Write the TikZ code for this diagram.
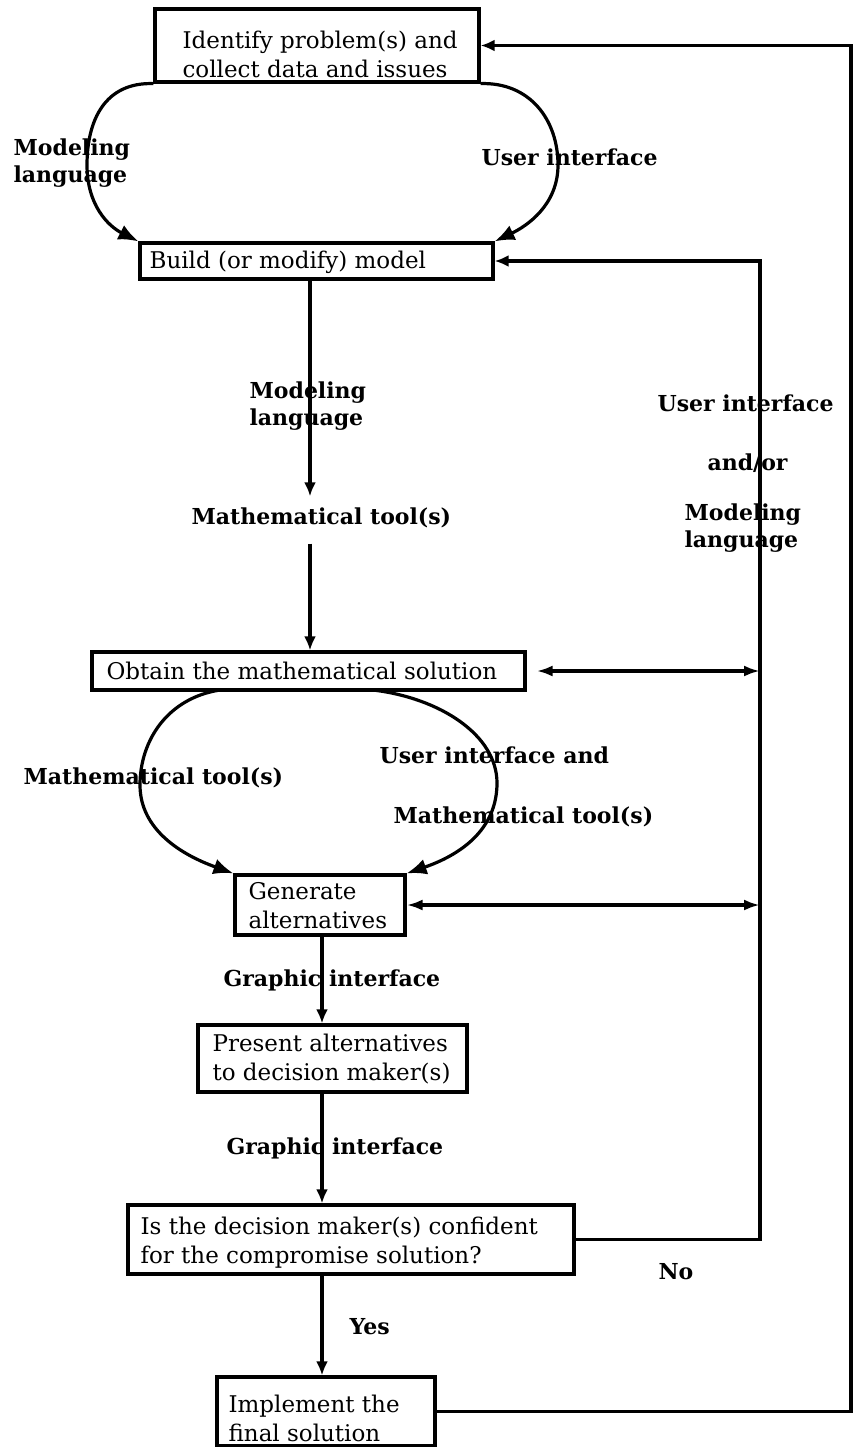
\documentclass[tikz,border=0pt]{standalone}
\usepackage{fontspec}
\setmainfont{DejaVu Serif}
\usetikzlibrary{arrows.meta,fit}
\begin{document}
\begin{tikzpicture}[x=0.5pt,y=-0.5pt,
  line width=1.6pt,
  box/.style={draw, line width=1.6pt, inner sep=0pt, rectangle},
  boxtext/.style={font=\fontsize{11.5}{14.5}\selectfont, align=left, anchor=west, inner sep=0pt},
  lbl/.style={font=\fontsize{11}{13.5}\selectfont\bfseries, align=left, anchor=west, inner sep=0pt},
  tip/.style={-{Latex[length=7pt,width=6pt]}},
  bigtip/.style={-{Latex[length=10pt,width=8pt]}},
  bothtips/.style={{Latex[length=8pt,width=5.5pt]}-{Latex[length=8pt,width=5.5pt]}},
]
\useasboundingbox (0,0) rectangle (857,1447);

% process boxes
\node[box, fit={(155,9)(479,82)}] (ident) {};
\node[box, fit={(140,243)(493,279)}] (build) {};
\node[box, fit={(92,652)(525,690)}] (obtain) {};
\node[box, fit={(235,875)(405,935)}] (generate) {};
\node[box, fit={(198,1025)(467,1092)}] (present) {};
\node[box, fit={(128,1205)(574,1274)}] (decide) {};
\node[box, fit={(217,1377)(435,1446)}] (implement) {};

% box texts
\node[boxtext] (identtxt) at (181,54) {Identify problem(s) and\\collect data and issues};
\node[boxtext] (buildtxt) at (148,262) {Build (or modify) model};
\node[boxtext] (obtaintxt) at (105,671) {Obtain the mathematical solution};
\node[boxtext] (generatetxt) at (247,906) {Generate\\alternatives};
\node[boxtext] (presenttxt) at (211,1059) {Present alternatives\\to decision maker(s)};
\node[boxtext] (decidetxt) at (139,1243) {Is the decision maker(s) confident\\for the compromise solution?};
\node[boxtext] (implementtxt) at (227,1418) {Implement the\\final solution};

% connector labels
\node[lbl] (lang1) at (12,163) {Modeling\\language};
\node[lbl] (ui1) at (480,157) {User interface};
\node[lbl] (lang2) at (248,406) {Modeling\\language};
\node[lbl] (mt1) at (190,518) {Mathematical tool(s)};
\node[lbl] (ui2) at (656,403) {User interface};
\node[lbl] (andor) at (706,463) {and/or};
\node[lbl] (lang3) at (683,528) {Modeling\\language};
\node[lbl] (mt2) at (22,778) {Mathematical tool(s)};
\node[lbl] (ui3) at (378,755) {User interface and};
\node[lbl] (mt3) at (392,817) {Mathematical tool(s)};
\node[lbl] (gi1) at (222,980) {Graphic interface};
\node[lbl] (gi2) at (225,1148) {Graphic interface};
\node[lbl] (yes) at (348,1327) {Yes};
\node[lbl] (no) at (657,1272) {No};

% vertical axes and feedback buses
\coordinate (axisA) at (310,0);
\coordinate (axisB) at (322,0);
\coordinate (busA) at (760,0);
\coordinate (busB) at (851,0);

% loop waypoints
\coordinate (loopAl) at (87,165);
\coordinate (loopAr) at (558,165);
\coordinate (loopBs) at (220,690);
\coordinate (loopBe) at (373,690);
\coordinate (loopBl) at (140,785);
\coordinate (loopBr) at (497,783);

% loop between identification and model building
\draw[bigtip] (ident.south west) .. controls (105,82) and (87,120) .. (loopAl)
  .. controls (87,205) and (108,226) .. (build.north west);
\draw[bigtip] (ident.south east) .. controls (530,82) and (558,120) .. (loopAr)
  .. controls (558,205) and (527,226) .. (build.north east);

% main flow
\draw[tip, shorten >=5pt] (build.south -| axisA) -- (mt1.north -| axisA);
\draw[tip, shorten <=7pt] (mt1.south -| axisA) -- (obtain.north -| axisA);

% loop between solution and alternatives
\draw[bigtip] (loopBs) .. controls (168,698) and (140,740) .. (loopBl)
  .. controls (140,830) and (182,855) .. (generate.north west);
\draw[bigtip] (loopBe) .. controls (440,698) and (497,735) .. (loopBr)
  .. controls (497,830) and (460,855) .. (generate.north east);

\draw[tip] (generate.south -| axisB) -- (present.north -| axisB);
\draw[tip] (present.south -| axisB) -- (decide.north -| axisB);
\draw[tip] (decide.south -| axisB) -- (implement.north -| axisB);

% feedback: No -> rebuild the model
\draw[tip] (decide.east) -- (decide.east -| busA) -- (build.east -| busA) -- (build.east);
\draw[bothtips, shorten <=5pt] (obtain.east) -- (obtain.east -| busA);
\draw[bothtips] (generate.east) -- (generate.east -| busA);

% feedback: implementation -> new problem identification
\draw[tip] (implement.east) -- (implement.east -| busB) -- (ident.east -| busB) -- (ident.east);
\end{tikzpicture}
\end{document}
